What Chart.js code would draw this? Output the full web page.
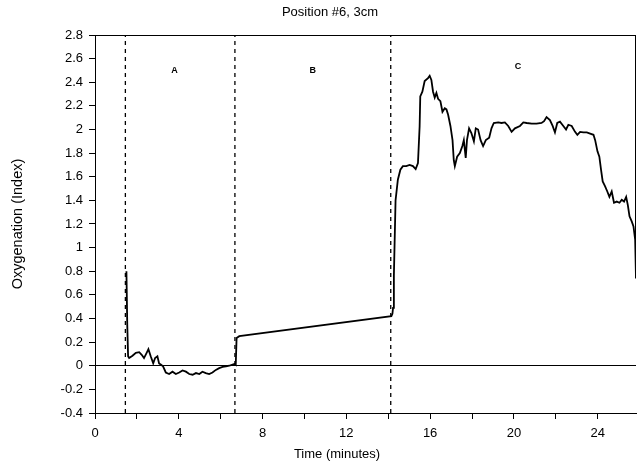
<!DOCTYPE html>
<html>
<head>
<meta charset="utf-8">
<title>Position #6, 3cm</title>
<script src="https://cdn.jsdelivr.net/npm/chart.js@4.4.1/dist/chart.umd.min.js"></script>
<style>
  html, body { margin: 0; padding: 0; background: #fff; }
  canvas { display: block; }
</style>
</head>
<body>
<canvas id="chart" width="638" height="466"></canvas>
<script>
// Oxygenation index trace, time in minutes
const times = [
  1.50, 1.54, 1.58, 1.63, 1.79, 1.95, 2.11, 2.23, 2.34, 2.46, 2.55, 2.66, 2.78, 2.87, 2.98,
  3.06, 3.14, 3.25, 3.38, 3.54, 3.70, 3.86, 4.02, 4.18, 4.34, 4.50, 4.66, 4.82, 4.98, 5.13,
  5.29, 5.45, 5.61, 5.77, 5.93, 6.09, 6.25, 6.41, 6.57, 6.68, 6.72, 6.76, 6.89,
  14.15, 14.20, 14.23, 14.27, 14.35, 14.46, 14.58, 14.70, 14.86, 15.02, 15.18, 15.31, 15.42,
  15.50, 15.53, 15.63, 15.74, 15.90, 15.98, 16.06, 16.14, 16.22, 16.30, 16.38, 16.49, 16.59,
  16.70, 16.78, 16.86, 16.97, 17.07, 17.13, 17.18, 17.29, 17.42, 17.54, 17.61, 17.70, 17.76,
  17.86, 17.97, 18.09, 18.18, 18.29, 18.41, 18.53, 18.66, 18.82, 18.93, 19.04, 19.25, 19.41,
  19.57, 19.73, 19.89, 20.05, 20.29, 20.45, 20.61, 20.85, 21.08, 21.32, 21.44, 21.56, 21.72,
  21.85, 21.96, 22.07, 22.20, 22.36, 22.49, 22.60, 22.76, 22.92, 23.03, 23.16, 23.32, 23.48,
  23.64, 23.80, 23.88, 23.99, 24.08, 24.16, 24.24, 24.35, 24.46, 24.56, 24.67, 24.78, 24.91,
  25.04, 25.15, 25.26, 25.36, 25.44, 25.52, 25.63, 25.71, 25.79, 25.83
];
const oxygenation = [
  0.80, 0.35, 0.08, 0.065, 0.085, 0.11, 0.115, 0.093, 0.065, 0.107, 0.14, 0.08, 0.02, 0.065, 0.08,
  0.02, 0.01, -0.005, -0.057, -0.07, -0.05, -0.07, -0.057, -0.04, -0.05, -0.07, -0.076, -0.062, -0.07, -0.05,
  -0.062, -0.07, -0.057, -0.035, -0.02, -0.01, -0.005, 0.0, 0.01, 0.017, 0.01, 0.235, 0.25,
  0.42, 0.44, 0.49, 0.76, 1.40, 1.575, 1.66, 1.69, 1.69, 1.70, 1.69, 1.665, 1.716,
  2.03, 2.28, 2.32, 2.41, 2.435, 2.455, 2.42, 2.32, 2.27, 2.31, 2.26, 2.24, 2.15,
  2.18, 2.17, 2.125, 2.03, 1.91, 1.74, 1.69, 1.77, 1.80, 1.86, 1.91, 1.76, 1.91,
  2.01, 1.97, 1.90, 2.01, 2.00, 1.91, 1.86, 1.91, 1.93, 2.01, 2.055, 2.06, 2.055,
  2.06, 2.03, 1.98, 2.01, 2.03, 2.06, 2.055, 2.05, 2.05, 2.055, 2.07, 2.105, 2.08,
  2.03, 1.975, 2.055, 2.066, 2.03, 2.00, 2.04, 2.03, 1.98, 1.955, 1.98, 1.975, 1.975,
  1.965, 1.955, 1.91, 1.815, 1.77, 1.66, 1.56, 1.52, 1.475, 1.43, 1.475, 1.38, 1.39,
  1.38, 1.405, 1.39, 1.43, 1.36, 1.265, 1.22, 1.18, 1.067, 0.74
];

// Phase boundaries (minutes) and phase names
const phaseBounds = [1.45, 6.68, 14.12];
const phaseNames = ['A', 'B', 'C'];
const phaseNameTimes = [3.8, 10.4, 20.2];
const phaseNameLevels = [2.5, 2.5, 2.53];

// Axis ticks
const xTicks = [0, 2, 4, 6, 8, 10, 12, 14, 16, 18, 20, 22, 24];
const xTickLabels = ['0', '', '4', '', '8', '', '12', '', '16', '', '20', '', '24'];
const yTicks = [-0.4, -0.2, 0, 0.2, 0.4, 0.6, 0.8, 1, 1.2, 1.4, 1.6, 1.8, 2, 2.2, 2.4, 2.6, 2.8];
const yTickLabels = ['-0.4', '-0.2', '0', '0.2', '0.4', '0.6', '0.8', '1', '1.2', '1.4', '1.6', '1.8', '2', '2.2', '2.4', '2.6', '2.8'];

const X_MIN = 0, X_MAX = 25.83, Y_MIN = -0.4, Y_MAX = 2.8;
const FONT = '"Liberation Sans", Arial, Helvetica, sans-serif';
const INK = '#000';

const traceData = times.map((t, i) => ({ x: t, y: oxygenation[i] }));
const boundSets = phaseBounds.map(t => ({
  data: [{ x: t, y: Y_MIN }, { x: t, y: Y_MAX }],
  borderColor: INK,
  borderWidth: 1.3,
  borderDash: [4, 4],
  pointRadius: 0,
  fill: false,
  order: 2
}));

// Title, x-axis caption, phase names and right frame edge
const annotations = {
  id: 'annotations',
  afterDatasetsDraw(chart) {
    const { ctx, chartArea, scales: { x, y } } = chart;
    ctx.save();
    ctx.fillStyle = INK;
    ctx.textAlign = 'center';
    ctx.textBaseline = 'middle';
    ctx.font = '13px ' + FONT;
    ctx.fillText('Position #6, 3cm', 330, 12);
    ctx.fillText('Time (minutes)', 337, 454);

    ctx.font = 'bold 9px ' + FONT;
    phaseNames.forEach((n, i) => {
      ctx.fillText(n, x.getPixelForValue(phaseNameTimes[i]), y.getPixelForValue(phaseNameLevels[i]));
    });

    // right frame edge, down to the end of the trace
    const endY = y.getPixelForValue(oxygenation[oxygenation.length - 1]);
    ctx.strokeStyle = INK;
    ctx.lineWidth = 1;
    ctx.beginPath();
    ctx.moveTo(chartArea.right - 0.5, chartArea.top);
    ctx.lineTo(chartArea.right - 0.5, endY);
    ctx.stroke();
    ctx.restore();
  }
};

new Chart(document.getElementById('chart'), {
  type: 'line',
  data: {
    datasets: [
      {
        data: traceData,
        borderColor: INK,
        borderWidth: 1.8,
        pointRadius: 0,
        fill: false,
        tension: 0,
        order: 1
      },
      ...boundSets
    ]
  },
  plugins: [annotations],
  options: {
    responsive: false,
    devicePixelRatio: 1,
    animation: false,
    layout: { padding: { top: 35, right: 2, left: 0, bottom: 0 } },
    plugins: {
      legend: { display: false },
      tooltip: { enabled: false },
      title: { display: false }
    },
    scales: {
      x: {
        type: 'linear',
        min: X_MIN,
        max: X_MAX,
        afterBuildTicks: s => { s.ticks = xTicks.map(v => ({ value: v })); },
        afterFit: s => { s.height = 53; },
        ticks: {
          autoSkip: false,
          maxRotation: 0,
          padding: 7,
          color: INK,
          font: { family: FONT, size: 13 },
          callback: (v, i) => xTickLabels[i]
        },
        grid: { drawOnChartArea: false, tickLength: 6, tickColor: INK, tickWidth: 1 },
        border: { color: INK, width: 1 }
      },
      y: {
        type: 'linear',
        min: Y_MIN,
        max: Y_MAX,
        afterBuildTicks: s => { s.ticks = yTicks.map(v => ({ value: v })); },
        afterFit: s => { s.width = 95; },
        ticks: {
          padding: 6,
          color: INK,
          font: { family: FONT, size: 13 },
          callback: (v, i) => yTickLabels[i]
        },
        grid: {
          tickLength: 6,
          tickColor: INK,
          tickWidth: 1,
          lineWidth: 1,
          color: c => (c.tick && (c.tick.value === 0 || c.tick.value === Y_MAX)) ? INK : 'rgba(0,0,0,0)'
        },
        border: { color: INK, width: 1 },
        title: {
          display: true,
          text: 'Oxygenation (Index)',
          color: INK,
          font: { family: FONT, size: 14.5 },
          padding: { top: 9, bottom: 0 }
        }
      }
    }
  }
});
</script>
</body>
</html>
